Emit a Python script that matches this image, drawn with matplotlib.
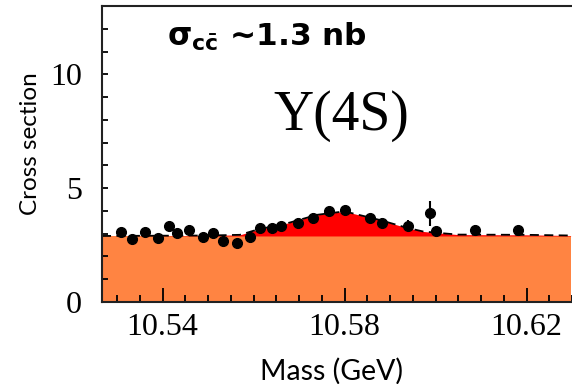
import matplotlib
matplotlib.use("Agg")
import matplotlib.pyplot as plt
import numpy as np

# Messpunkte (Masse in GeV, Wirkungsquerschnitt)
mass = [10.5308, 10.5334, 10.5361, 10.5389, 10.5415, 10.5432, 10.5458, 10.5488,
        10.5511, 10.5533, 10.5563, 10.5592, 10.5614, 10.5640, 10.5660, 10.5697,
        10.5730, 10.5766, 10.5801, 10.5856, 10.5883, 10.5940, 10.5987, 10.6001,
        10.6086, 10.6182]
xsec = [3.07, 2.78, 3.07, 2.81, 3.32, 3.03, 3.17, 2.85, 3.03, 2.66, 2.61, 2.85,
        3.24, 3.24, 3.35, 3.46, 3.68, 3.98, 4.02, 3.68, 3.49, 3.35, 3.90, 3.14,
        3.17, 3.17]
xsec_err = [0.15, 0.12, 0.12, 0.12, 0.15, 0.15, 0.2, 0.12, 0.12, 0.15, 0.15, 0.15,
            0.15, 0.15, 0.15, 0.25, 0.25, 0.15, 0.15, 0.15, 0.2, 0.25, 0.55, 0.15,
            0.2, 0.15]

# Kurve (Kontinuum + Resonanz)
curve_m = [10.5267, 10.550, 10.557, 10.5607, 10.568, 10.574, 10.580, 10.5878,
           10.5937, 10.5972, 10.6003, 10.605, 10.620, 10.6297]
curve_s = [2.9, 2.92, 2.95, 3.17, 3.49, 3.83, 3.98, 3.6, 3.26, 3.1, 3.04, 2.96,
           2.95, 2.92]
continuum = 2.9

plt.rcParams['font.family'] = ['Liberation Serif', 'DejaVu Serif']
plt.rcParams['mathtext.fontset'] = 'dejavusans'

fig = plt.figure(figsize=(5.72, 3.84), dpi=100)
ax = fig.add_axes([102/572, 82/384, 470/572, 296/384])

xlo, xhi = 10.5267, 10.6297
ax.fill_between([xlo, xhi], 0, continuum, color='#FF8442', lw=0, zorder=1)
ax.fill_between(curve_m, continuum, curve_s, color='#FF0000', lw=0, zorder=1)
ax.plot(curve_m, curve_s, color='black', ls=(0, (5, 3)), lw=1.3, zorder=2)
ax.errorbar(mass, xsec, yerr=xsec_err, fmt='o', color='black', ms=7, elinewidth=1.5,
            capsize=0, zorder=3)

ax.set_xlim(xlo, xhi)
ax.set_ylim(0, 13)
ax.set_xticks([10.54, 10.58, 10.62])
ax.set_xticklabels(['10.54', '10.58', '10.62'])
ax.set_xticks(np.arange(10.53, 10.63, 0.005), minor=True)
ax.set_yticks([0, 5, 10])
ax.set_yticks(range(0, 14), minor=True)
ax.tick_params(axis='both', which='both', direction='in', color='black', width=1.3,
               labelsize=23)
ax.tick_params(axis='x', which='major', length=10, pad=8)
ax.tick_params(axis='x', which='minor', length=5)
ax.tick_params(axis='y', which='both', length=4, pad=14.5)
ax.spines['right'].set_visible(False)
for s in ['left', 'top', 'bottom']:
    ax.spines[s].set_linewidth(1.5)
    ax.spines[s].set_color('#222222')

ax.text(10.5794, 7.58, 'Y(4S)', fontsize=40, ha='center', va='baseline')
ax.text(10.5409, 11.23, r'$\mathbf{\sigma}_{\mathbf{c\bar{c}}}$ ~1.3 nb', fontsize=22.5,
        family='DejaVu Sans', fontweight='bold', ha='left', va='baseline')

fig.text(331/572, 1 - 371/384, 'Mass (GeV)', family='Lato', fontsize=20.5,
         ha='center', va='center')
fig.text(31/572, 1 - 144/384, 'Cross section', family='Lato', fontsize=17.5,
         rotation=90, ha='center', va='center')

fig.savefig('out.png', dpi=100)
